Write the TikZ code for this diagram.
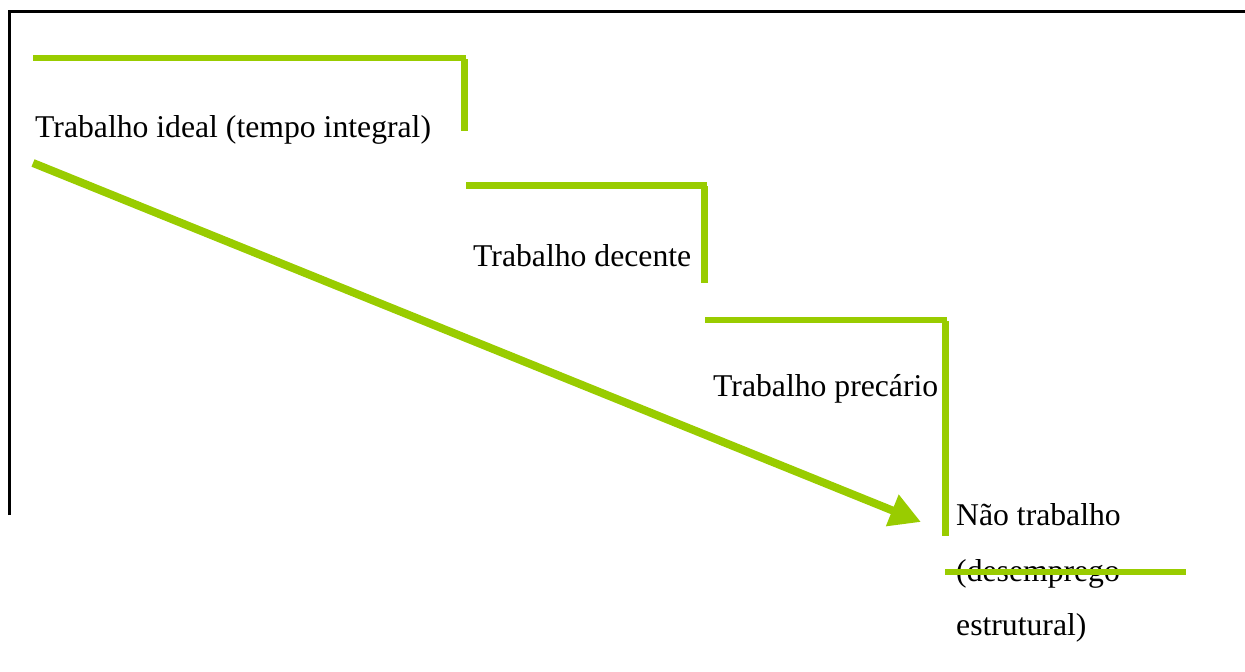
\documentclass[tikz,border=0pt]{standalone}
\usepackage{fontspec}
\setmainfont{Liberation Serif}
\usetikzlibrary{arrows.meta}
\definecolor{lime}{HTML}{99CC00}
\begin{document}
\begin{tikzpicture}[x=1pt,y=-1pt,
  lbl/.style={anchor=base west,inner sep=0pt,font=\fontsize{31.7}{38}\selectfont},
  stepline/.style={draw=lime,line width=6.5pt},
  riser/.style={draw=lime,line width=7.5pt},
  frame/.style={draw=black,line width=3pt}]
\useasboundingbox (0,0) rectangle (1245,672);
% frame
\coordinate (f1) at (9.5,515);
\coordinate (f2) at (9.5,11.5);
\coordinate (f3) at (1245,11.5);
\draw[frame] (f1) -- (f2) -- (f3);
% labels
\node[lbl] (l1) at (35,137) {Trabalho ideal (tempo integral)};
\node[lbl] (l2) at (473,266) {Trabalho decente};
\node[lbl] (l3) at (713,396) {Trabalho precário};
\node[lbl] (l4a) at (956,525) {Não trabalho};
\node[lbl] (l4b) at (956,581) {(desemprego};
\node[lbl] (l4c) at (956,635) {estrutural)};
% steps
\coordinate (a0) at (33,58);   \coordinate (a1) at (466,58);
\coordinate (a2) at (464.5,59); \coordinate (a3) at (464.5,131);
\coordinate (b0) at (466,185.5); \coordinate (b1) at (707,185.5);
\coordinate (b2) at (704.5,186); \coordinate (b3) at (704.5,283);
\coordinate (c0) at (705,320); \coordinate (c1) at (947,320);
\coordinate (c2) at (945.5,321); \coordinate (c3) at (945.5,536);
\coordinate (d0) at (945,572); \coordinate (d1) at (1186,572);
\draw[stepline] (a0) -- (a1);
\draw[riser] (a2) -- (a3);
\draw[stepline] (b0) -- (b1);
\draw[riser] (b2) -- (b3);
\draw[stepline] (c0) -- (c1);
\draw[riser] (c2) -- (c3);
\draw[stepline] (d0) -- (d1);
% arrow
\coordinate (s) at (33,163);
\coordinate (t) at (921,522);
\draw[draw=lime,line width=8pt,-{Triangle[length=31pt,width=32pt]}] (s) -- (t);
\end{tikzpicture}
\end{document}
